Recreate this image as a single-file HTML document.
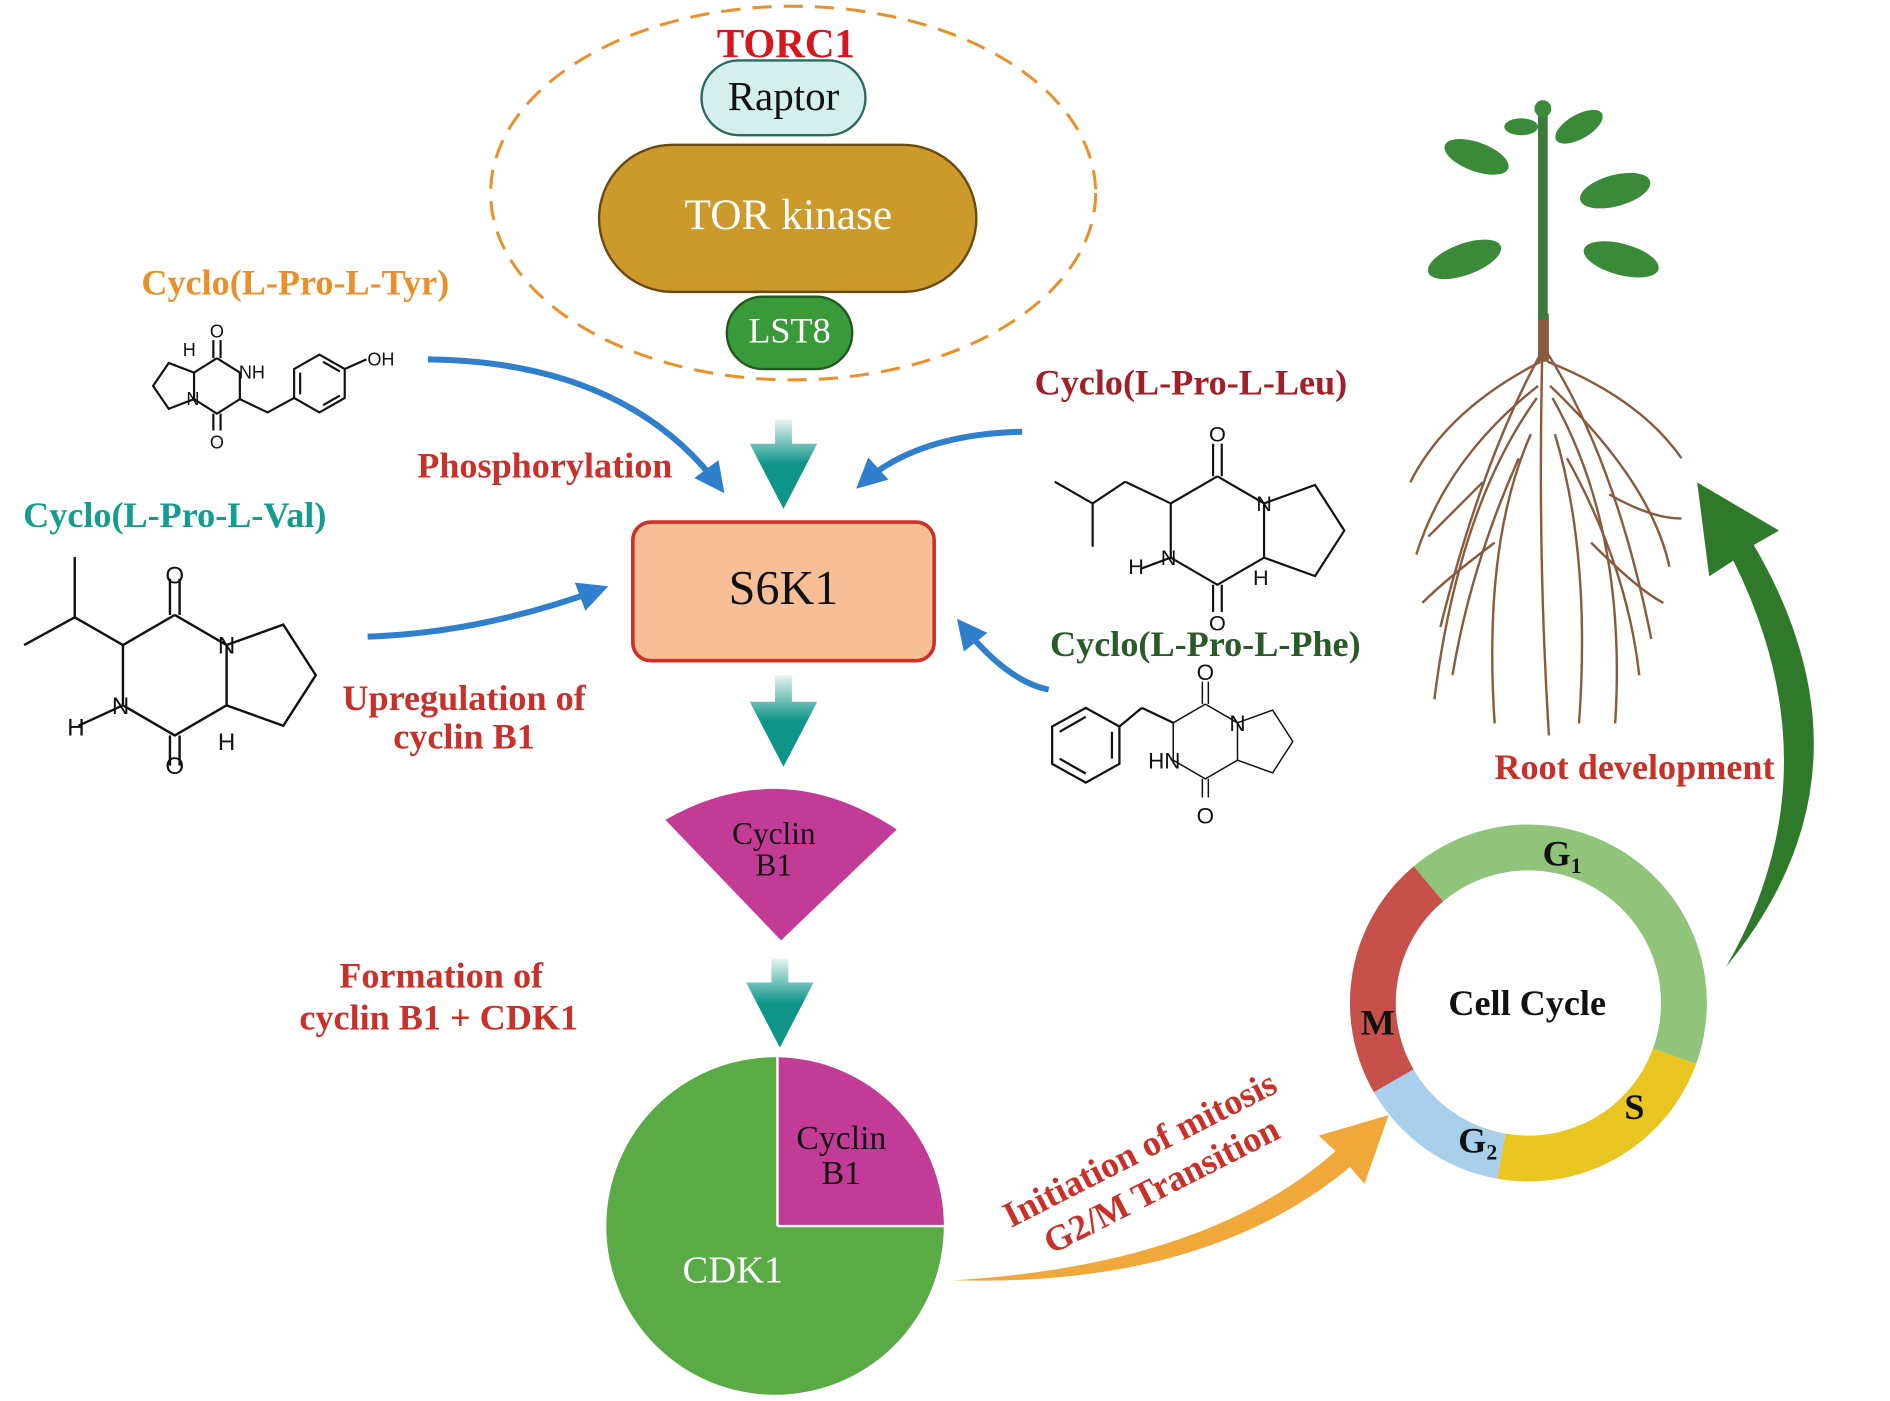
<!DOCTYPE html>
<html><head><meta charset="utf-8"><style>html,body{margin:0;padding:0;background:#fff}svg{display:block}</style></head><body>
<svg xmlns="http://www.w3.org/2000/svg" width="1890" height="1401" viewBox="0 0 1568 1162" font-family="Liberation Serif, serif">
<defs>
<linearGradient id="tg" x1="0" y1="0" x2="0" y2="1"><stop offset="0" stop-color="#0f9488" stop-opacity="0.1"/><stop offset="0.5" stop-color="#0f9488"/></linearGradient>
<marker id="bh" viewBox="0 0 10 10" refX="8" refY="5" markerWidth="5" markerHeight="5" orient="auto"><path d="M0,0 L10,5 L0,10 Z" fill="#2f7fcc"/></marker>
<g id="dkp" stroke="#111" stroke-width="2" fill="none">
<polyline points="0,-50 43,-25 43,25 0,50 -43,25 -43,-25 0,-50"/>
<polyline points="43,-25 90,-42 117,0 90,42 43,25"/>
<line x1="-4" y1="-50" x2="-4" y2="-80"/><line x1="4" y1="-50" x2="4" y2="-80"/>
<line x1="-4" y1="50" x2="-4" y2="75"/><line x1="4" y1="50" x2="4" y2="75"/>
</g>
</defs>
<!-- TORC1 -->
<ellipse cx="658" cy="160" rx="251" ry="155" fill="none" stroke="#e8902a" stroke-width="2.5" stroke-dasharray="16,10"/>
<text x="652" y="47" font-size="34" font-weight="bold" fill="#d8141c" text-anchor="middle">TORC1</text>
<rect x="582" y="50" width="136" height="62" rx="31" fill="#d5f0ec" stroke="#2a6a60" stroke-width="2"/>
<text x="650" y="91" font-size="34" text-anchor="middle" fill="#111">Raptor</text>
<rect x="497" y="120" width="313" height="122" rx="61" fill="#cc9a2a" stroke="#6b4a10" stroke-width="2"/>
<text x="654" y="190" font-size="36" text-anchor="middle" fill="#fff">TOR kinase</text>
<rect x="603" y="246" width="104" height="60" rx="30" fill="#3a9a3a" stroke="#1f5a1f" stroke-width="2"/>
<text x="655" y="284" font-size="30" text-anchor="middle" fill="#fff">LST8</text>
<!-- teal arrows -->
<g fill="url(#tg)"><path d="M643,348 H657 V368 H678 L650,422 L622,368 H643 Z"/><path d="M643,560 H657 V582 H678 L650,636 L622,582 H643 Z"/><path d="M640,795 H654 V815 H675 L647,869 L619,815 H640 Z"/></g>
<!-- S6K1 -->
<rect x="525" y="433" width="250" height="115" rx="15" fill="#f7bf95" stroke="#d0302a" stroke-width="3"/>
<text x="650" y="501" font-size="40" text-anchor="middle" fill="#111">S6K1</text>
<!-- Cyclin fan -->
<path d="M648,780 L552,680 Q648,625 744,688 Z" fill="#c23b96"/>
<text x="642" y="700" font-size="26" text-anchor="middle" fill="#111">Cyclin</text>
<text x="642" y="726" font-size="26" text-anchor="middle" fill="#111">B1</text>
<!-- CDK1 -->
<circle cx="643" cy="1017" r="140" fill="#5aab46"/>
<path d="M645,1017 V877 A140,140 0 0 1 783,1017 Z" fill="#c23b96"/>
<line x1="645" y1="877" x2="645" y2="1017" stroke="#fff" stroke-width="2"/><line x1="645" y1="1017" x2="783" y2="1017" stroke="#fff" stroke-width="2"/>
<text x="698" y="953" font-size="28" text-anchor="middle" fill="#111">Cyclin</text>
<text x="698" y="982" font-size="28" text-anchor="middle" fill="#111">B1</text>
<text x="608" y="1064" font-size="32" text-anchor="middle" fill="#fff">CDK1</text>
<!-- blue arrows -->
<g stroke="#2f7fcc" stroke-width="5" fill="none" marker-end="url(#bh)">
<path d="M355,298 Q520,300 598,405"/><path d="M848,358 Q760,360 714,402"/><path d="M305,528 Q400,525 500,488"/><path d="M870,572 Q835,565 797,517"/>
</g>
<!-- labels -->
<g font-weight="bold" text-anchor="middle" font-size="30">
<text x="245" y="244" fill="#e8902a">Cyclo(L-Pro-L-Tyr)</text>
<text x="452" y="396" fill="#c8302a">Phosphorylation</text>
<text x="145" y="437" fill="#159c8c">Cyclo(L-Pro-L-Val)</text>
<text x="385" y="589" fill="#c8302a">Upregulation of</text>
<text x="385" y="621" fill="#c8302a">cyclin B1</text>
<text x="988" y="327" fill="#a01f28">Cyclo(L-Pro-L-Leu)</text>
<text x="1000" y="544" fill="#2a5a2a">Cyclo(L-Pro-L-Phe)</text>
<text x="1356" y="646" fill="#c8302a">Root development</text>
<text x="366" y="819" fill="#c8302a">Formation of</text>
<text x="364" y="854" fill="#c8302a">cyclin B1 + CDK1</text>
<text transform="translate(950,962) rotate(-27)" fill="#c8302a">Initiation of mitosis</text>
<text transform="translate(968,992) rotate(-27)" fill="#c8302a">G2/M Transition</text>
</g>
<!-- orange arrow -->
<path d="M790,1062 Q1000,1050 1108,955 L1094,942 L1152,925 L1132,982 L1120,968 Q1000,1068 790,1062 Z" fill="#f0a83a"/>
<!-- cell cycle -->
<path d="M1172.8,718.6 A148,148 0 0 1 1407.1,882.6 L1371.4,869.6 A110,110 0 0 0 1197.3,747.7 Z" fill="#8fc47a"/>
<path d="M1407.1,882.6 A148,148 0 0 1 1242.3,977.8 L1248.9,940.3 A110,110 0 0 0 1371.4,869.6 Z" fill="#e8c520"/>
<path d="M1242.3,977.8 A148,148 0 0 1 1139.8,906 L1172.7,887 A110,110 0 0 0 1248.9,940.3 Z" fill="#a8d0ec"/>
<path d="M1139.8,906 A148,148 0 0 1 1172.8,718.6 L1197.3,747.7 A110,110 0 0 0 1172.7,887 Z" fill="#c8504a"/>
<g font-weight="bold" font-size="30" text-anchor="middle" fill="#111">
<text x="1267" y="842">Cell Cycle</text>
<text x="1296" y="718">G<tspan font-size="18" dy="6">1</tspan></text>
<text x="1356" y="928">S</text>
<text x="1226" y="956">G<tspan font-size="18" dy="6">2</tspan></text>
<text x="1143" y="858">M</text>
</g>
<!-- green arrow -->
<path d="M1432,802 Q1565,640 1455,452 L1476,440 L1408,400 L1418,478 L1438,465 Q1525,640 1432,802 Z" fill="#2f7a2a"/>
<!-- plant -->
<g stroke="#8a5a3c" stroke-width="2" fill="none">
<path d="M1280,275 Q1275,450 1285,610"/><path d="M1280,290 Q1230,380 1195,520"/><path d="M1282,290 Q1340,380 1370,530"/>
<path d="M1278,300 Q1200,340 1170,400"/><path d="M1284,300 Q1360,330 1395,380"/><path d="M1275,330 Q1210,420 1190,580"/>
<path d="M1288,330 Q1350,440 1340,600"/><path d="M1270,360 Q1230,450 1240,600"/><path d="M1290,360 Q1320,460 1310,600"/>
<path d="M1276,320 Q1200,380 1175,460"/><path d="M1286,320 Q1370,400 1385,470"/><path d="M1230,400 Q1200,430 1185,445"/><path d="M1335,410 Q1370,430 1395,430"/>
<path d="M1260,380 Q1220,470 1205,560"/><path d="M1300,380 Q1350,470 1360,560"/><path d="M1240,450 Q1200,480 1180,500"/><path d="M1320,450 Q1360,490 1380,500"/>
</g>
<rect x="1276" y="260" width="9" height="40" fill="#8a5a3c"/>
<path d="M1280,95 V265" stroke="#3a7a3a" stroke-width="8"/>
<g fill="#3a8a3a">
<ellipse cx="1225" cy="130" rx="28" ry="12" transform="rotate(20 1225 130)"/>
<ellipse cx="1310" cy="105" rx="22" ry="10" transform="rotate(-30 1310 105)"/>
<ellipse cx="1340" cy="158" rx="30" ry="13" transform="rotate(-15 1340 158)"/>
<ellipse cx="1215" cy="215" rx="32" ry="13" transform="rotate(-20 1215 215)"/>
<ellipse cx="1345" cy="215" rx="32" ry="13" transform="rotate(15 1345 215)"/>
<ellipse cx="1262" cy="105" rx="14" ry="7"/>
<circle cx="1280" cy="90" r="7"/>
</g>
<!-- structures -->
<g transform="translate(145,560)"><use href="#dkp"/><g stroke="#111" stroke-width="2"><line x1="-43" y1="-25" x2="-83" y2="-48"/><line x1="-83" y1="-48" x2="-125" y2="-25"/><line x1="-83" y1="-48" x2="-83" y2="-98"/><line x1="-43" y1="25" x2="-80" y2="42"/></g>
<g font-family="Liberation Sans, sans-serif" font-size="20" fill="#111" text-anchor="middle"><text x="0" y="-76">O</text><text x="0" y="82">O</text><text x="43" y="-18" fill="#111">N</text><text x="-45" y="32">N</text><text x="-82" y="50">H</text><text x="43" y="62">H</text></g></g>
<g transform="translate(1010,440) scale(0.9)"><use href="#dkp"/><g stroke="#111" stroke-width="2"><line x1="-43" y1="-25" x2="-85" y2="-45"/><line x1="-85" y1="-45" x2="-115" y2="-25"/><line x1="-115" y1="-25" x2="-150" y2="-45"/><line x1="-115" y1="-25" x2="-115" y2="15"/><line x1="-43" y1="25" x2="-70" y2="35"/></g>
<g font-family="Liberation Sans, sans-serif" font-size="20" fill="#111" text-anchor="middle"><text x="0" y="-82">O</text><text x="0" y="92">O</text><text x="43" y="-18">N</text><text x="-45" y="32">N</text><text x="-75" y="40">H</text><text x="40" y="50">H</text></g></g>
<g transform="translate(1000,615) scale(0.62)"><use href="#dkp"/><g stroke="#111" stroke-width="3" fill="none"><line x1="-43" y1="-25" x2="-85" y2="-45"/><line x1="-85" y1="-45" x2="-115" y2="-20"/><polygon points="-115,-20 -160,-45 -205,-20 -205,30 -160,55 -115,30"/><line x1="-160" y1="-33" x2="-195" y2="-13"/><line x1="-195" y1="23" x2="-160" y2="43"/><line x1="-125" y1="-13" x2="-125" y2="23"/></g>
<g font-family="Liberation Sans, sans-serif" font-size="30" fill="#111" text-anchor="middle"><text x="0" y="-82">O</text><text x="0" y="110">O</text><text x="43" y="-14">N</text><text x="-55" y="36">HN</text></g></g>
<!-- Tyr -->
<g stroke="#111" stroke-width="1.8" fill="none">
<polyline points="180,297 199,309 199,331 180,343 161,331 161,309 180,297"/>
<polyline points="161,309 140,301 127,320 140,339 161,331"/>
<line x1="177" y1="297" x2="177" y2="282"/><line x1="183" y1="297" x2="183" y2="282"/>
<line x1="177" y1="343" x2="177" y2="357"/><line x1="183" y1="343" x2="183" y2="357"/>
<polyline points="199,331 222,342 244,330"/>
<polygon points="244,306 265,294 286,306 286,330 265,342 244,330"/>
<line x1="249" y1="309" x2="249" y2="327"/><line x1="268" y1="300" x2="282" y2="308"/><line x1="282" y1="328" x2="268" y2="336"/>
<line x1="286" y1="306" x2="304" y2="298"/>
</g>
<g font-family="Liberation Sans, sans-serif" font-size="15" fill="#111" text-anchor="middle"><text x="180" y="280">O</text><text x="180" y="372">O</text><text x="209" y="314">NH</text><text x="160" y="336">N</text><text x="157" y="295">H</text><text x="316" y="303">OH</text></g>
</svg>
</body></html>
